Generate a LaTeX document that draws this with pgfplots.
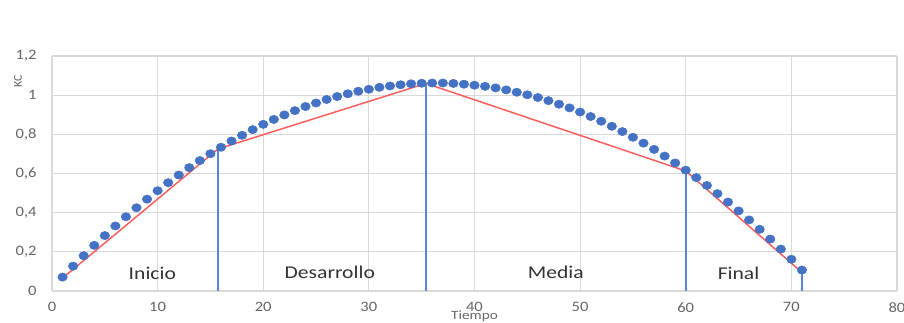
\documentclass[border=0pt]{standalone}
\usepackage{pgfplots}
\pgfplotsset{compat=1.18}
\usepackage{fontspec}
\setmainfont{Carlito}
\newfontfamily\tickfont[FakeStretch=1.15]{Carlito}
\newfontfamily\lblfont[FakeStretch=1.2]{Carlito}
\definecolor{kblue}{HTML}{4472C4}
\definecolor{kvline}{HTML}{5A86D6}
\definecolor{kred}{HTML}{FF5B5B}
\definecolor{kgrid}{HTML}{D9D9D9}
\definecolor{ktick}{HTML}{666666}
\definecolor{klbl}{HTML}{333333}
\pgfplotstableread{
x y
1 0.071
2 0.127
3 0.180
4 0.233
5 0.283
6 0.332
7 0.379
8 0.425
9 0.469
10 0.512
11 0.553
12 0.592
13 0.630
14 0.666
15 0.701
16 0.734
17 0.766
18 0.795
19 0.824
20 0.851
21 0.876
22 0.899
23 0.921
24 0.942
25 0.960
26 0.978
27 0.993
28 1.007
29 1.020
30 1.030
31 1.040
32 1.047
33 1.053
34 1.058
35 1.061
36 1.062
37 1.062
38 1.060
39 1.056
40 1.051
41 1.045
42 1.037
43 1.027
44 1.015
45 1.002
46 0.988
47 0.972
48 0.954
49 0.935
50 0.914
51 0.891
52 0.867
53 0.841
54 0.814
55 0.785
56 0.755
57 0.723
58 0.689
59 0.654
60 0.617
61 0.579
62 0.539
63 0.497
64 0.454
65 0.409
66 0.363
67 0.315
68 0.265
69 0.214
70 0.162
71 0.107
}\kcdata
\begin{document}
\begin{tikzpicture}
\begin{axis}[
  at={(0,0)}, anchor=south west,
  scale only axis, width=633.75pt, height=176.25pt,
  xmin=0, xmax=80, ymin=0, ymax=1.2,
  xtick={0,10,20,30,40,50,60,70,80},
  ytick={0,0.2,0.4,0.6,0.8,1,1.2},
  grid=major,
  grid style={color=kgrid, line width=0.9pt},
  axis line style={draw=none},
  tick style={draw=none},
  major tick length=0pt,
  /pgf/number format/.cd, use comma, fixed, precision=1, assume math mode=true,
  /pgfplots/.cd,
  ticklabel style={font=\tickfont\fontsize{10.8}{12}\selectfont, text=ktick},
  xticklabel shift=5pt,
  yticklabel shift=8pt,
  xlabel={Tiempo},
  xlabel style={at={(axis description cs:0.5,0)}, anchor=center, yshift=-19pt,
    font=\lblfont\fontsize{9.5}{11}\selectfont, text=ktick},
  ylabel={KC},
  ylabel style={at={(axis description cs:0,1)}, anchor=center, xshift=-18.75pt, yshift=25.5pt,
    font=\fontsize{9}{10}\selectfont, text=ktick},
  clip=false,
]
\addplot[kvline, line width=1.2pt] coordinates {(15.7,0) (15.7,0.728)};
\addplot[kvline, line width=1.2pt] coordinates {(35.4,0) (35.4,1.062)};
\addplot[kvline, line width=1.2pt] coordinates {(60,0) (60,0.620)};
\addplot[kvline, line width=1.2pt] coordinates {(71,0) (71,0.107)};
\addplot[only marks, mark=*, mark size=3.1pt, color=kblue, mark options={xscale=1.15, draw=kblue, fill=kblue}] table[x=x, y=y] {\kcdata};
\addplot[kred, line width=1.1pt] coordinates {(1,0.066) (15.7,0.725) (35.4,1.060) (60,0.613) (71,0.095)};
\node[font=\lblfont\fontsize{13.5}{15}\selectfont, text=klbl] at (axis cs:9.5,0.092) {Inicio};
\node[font=\lblfont\fontsize{13.5}{15}\selectfont, text=klbl] at (axis cs:26.3,0.095) {Desarrollo};
\node[font=\lblfont\fontsize{13.5}{15}\selectfont, text=klbl] at (axis cs:47.7,0.095) {Media};
\node[font=\lblfont\fontsize{13.5}{15}\selectfont, text=klbl] at (axis cs:65.0,0.092) {Final};
\end{axis}
\pgfresetboundingbox
\path (-39pt,-23.25pt) rectangle (639pt,218.25pt);
\end{tikzpicture}
\end{document}
